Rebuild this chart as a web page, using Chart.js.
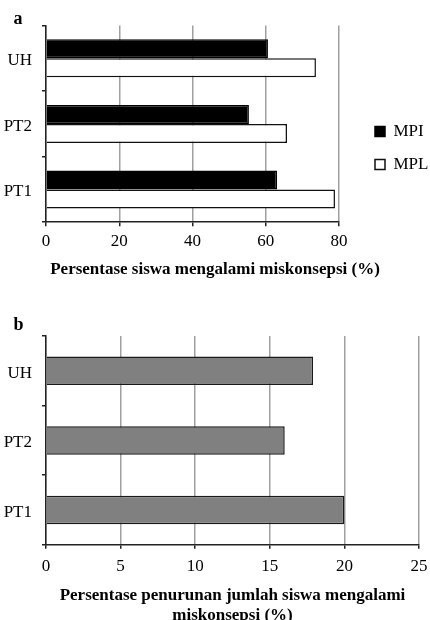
<!DOCTYPE html>
<html>
<head>
<meta charset="utf-8">
<script src="https://cdn.jsdelivr.net/npm/chart.js@4.4.0/dist/chart.umd.min.js"></script>
<style>
  html, body { margin: 0; padding: 0; background: #fff; overflow: hidden; }
  #wrapA { position: absolute; left: 0; top: 0; width: 430px; height: 290px; }
  #wrapB { position: absolute; left: 0; top: 300px; width: 430px; height: 326px; }
</style>
</head>
<body>
<div id="wrapA"><canvas id="chartA"></canvas></div>
<div id="wrapB"><canvas id="chartB"></canvas></div>
<script>
// data
const categories = ["UH", "PT2", "PT1"];
const mpiValues = [60.6, 55.4, 63.1];
const mplValues = [73.7, 65.8, 78.9];
const penurunanValues = [17.9, 16.0, 20.0];

const serif = "'Liberation Serif', 'Times New Roman', serif";
Chart.defaults.font.family = serif;
Chart.defaults.color = "#000";
Chart.defaults.animation = false;

function fixWidth(w) {
    return function (scale) { scale.width = w; };
}

const tickFont = { size: 17, family: serif, lineHeight: 1.2 };

new Chart(document.getElementById("chartA"), {
    type: 'bar',
    data: {
        labels: categories,
        datasets: [
            {
                label: "MPI",
                data: mpiValues,
                backgroundColor: "#000",
                borderColor: "#000",
                borderWidth: 1.5,
                categoryPercentage: 0.58,
                barPercentage: 1.0
            },
            {
                label: "MPL",
                data: mplValues,
                backgroundColor: "#fff",
                borderColor: "#111",
                borderWidth: 1.5,
                categoryPercentage: 0.58,
                barPercentage: 1.0
            }
        ]
    },
    options: {
        indexAxis: 'y',
        responsive: true,
        maintainAspectRatio: false,
        layout: { padding: { left: 0, right: 0, top: 0, bottom: 10 } },
        plugins: {
            title: {
                display: true,
                text: '   a',
                align: 'start',
                font: { size: 18, weight: 'bold', family: serif, lineHeight: 0.7 },
                padding: { top: 13, bottom: 0 }
            },
            subtitle: {
                display: true,
                position: 'bottom',
                text: 'Persentase siswa mengalami miskonsepsi (%)',
                font: { size: 17, weight: 'bold', family: serif, lineHeight: 1.2 },
                padding: { top: 3, bottom: 0 }
            },
            legend: {
                position: 'right',
                maxWidth: 71,
                title: { display: true, text: ' ', font: { size: 16, lineHeight: 1 }, padding: 0 },
                labels: {
                    boxWidth: 10,
                    boxHeight: 10,
                    padding: 16,
                    font: { size: 17, family: serif }
                }
            },
            tooltip: { enabled: false }
        },
        scales: {
            x: {
                min: 0,
                max: 80,
                ticks: { stepSize: 20, font: tickFont, padding: 5 },
                grid: { color: "#a0a0a0", lineWidth: 1.5, tickColor: "#222", tickLength: 4 },
                border: { color: "#222", width: 1.5 }
            },
            y: {
                afterFit: fixWidth(46),
                ticks: { font: tickFont, padding: 10, labelOffset: 2.5 },
                grid: { drawOnChartArea: false, tickColor: "#222", tickLength: 4, lineWidth: 1.5 },
                border: { color: "#222", width: 1.5 }
            },
            // empty spacer between the plot and the legend
            gap: {
                type: 'category',
                position: 'right',
                afterFit: fixWidth(20),
                ticks: { display: false },
                grid: { display: false },
                border: { display: false }
            }
        }
    }
});

new Chart(document.getElementById("chartB"), {
    type: 'bar',
    data: {
        labels: categories,
        datasets: [
            {
                label: "Penurunan",
                data: penurunanValues,
                backgroundColor: "#808080",
                borderColor: "#1a1a1a",
                borderWidth: 1.5,
                categoryPercentage: 0.41,
                barPercentage: 1.0
            }
        ]
    },
    options: {
        indexAxis: 'y',
        responsive: true,
        maintainAspectRatio: false,
        layout: { padding: { left: 0, right: 0, top: 0, bottom: 0 } },
        plugins: {
            title: {
                display: true,
                text: '   b',
                align: 'start',
                font: { size: 18, weight: 'bold', family: serif, lineHeight: 1.0 },
                padding: { top: 16, bottom: 2 }
            },
            legend: { display: false },
            tooltip: { enabled: false }
        },
        scales: {
            x: {
                min: 0,
                max: 25,
                // keep only room for half of the last label on the right
                afterFit: function (scale) { scale.paddingRight = 11; },
                ticks: { stepSize: 5, font: tickFont, padding: 8 },
                grid: { color: "#a0a0a0", lineWidth: 1.5, tickColor: "#222", tickLength: 4 },
                border: { color: "#222", width: 1.5 },
                title: {
                    display: true,
                    text: ['Persentase penurunan jumlah siswa mengalami', 'miskonsepsi (%)'],
                    font: { size: 17, weight: 'bold', family: serif, lineHeight: 1.2 },
                    padding: { top: 0, bottom: 0 }
                }
            },
            y: {
                afterFit: fixWidth(46),
                ticks: { font: tickFont, padding: 10, labelOffset: 2.5 },
                grid: { drawOnChartArea: false, tickColor: "#222", tickLength: 4, lineWidth: 1.5 },
                border: { color: "#222", width: 1.5 }
            }
        }
    }
});
</script>
</body>
</html>
